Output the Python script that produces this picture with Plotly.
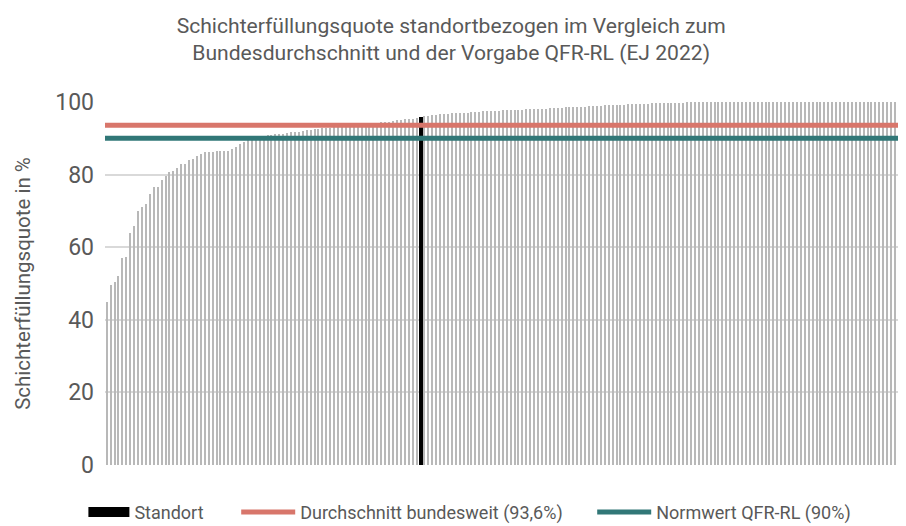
import plotly.graph_objects as go

# --- data -------------------------------------------------------------
quoten = [
    45.0, 49.6, 50.5, 52.1, 56.9, 57.2, 63.8, 65.8, 70.1, 71.0,
    71.9, 74.6, 76.7, 76.7, 78.5, 79.7, 80.6, 80.9, 81.7, 82.8,
    82.8, 84.0, 84.2, 85.0, 85.7, 86.1, 86.3, 86.3, 86.4, 86.4,
    86.4, 86.5, 87.0, 87.6, 88.3, 88.9, 89.4, 89.8, 90.0, 90.3,
    90.6, 90.8, 91.0, 91.1, 91.2, 91.3, 91.5, 91.6, 91.7, 91.8,
    92.0, 92.2, 92.4, 92.5, 92.7, 92.8, 92.9, 92.9, 93.0, 93.0,
    93.1, 93.1, 93.2, 93.3, 93.3, 93.4, 93.5, 94.1, 94.2, 94.3,
    94.4, 94.5, 94.6, 94.7, 95.0, 95.1, 95.2, 95.3, 95.4, 95.5,
    96.0, 96.1, 96.2, 96.3, 96.4, 96.6, 96.7, 96.8, 96.9, 97.0,
    97.0, 97.1, 97.1, 97.2, 97.3, 97.3, 97.4, 97.4, 97.5, 97.5,
    97.6, 97.7, 97.7, 97.8, 97.8, 97.9, 97.9, 98.0, 98.0, 98.1,
    98.1, 98.2, 98.2, 98.3, 98.3, 98.4, 98.4, 98.5, 98.5, 98.6,
    98.6, 98.7, 98.7, 98.8, 98.9, 99.0, 99.0, 99.1, 99.1, 99.2,
    99.2, 99.3, 99.3, 99.4, 99.4, 99.4, 99.5, 99.5, 99.5, 99.6,
    99.6, 99.6, 99.7, 99.7, 99.7, 99.8, 99.8, 99.8, 99.9, 99.9,
    99.9, 100.0, 100.0, 100.0, 100.0, 100.0, 100.0, 100.0, 100.0, 100.0,
    100.0, 100.0, 100.0, 100.0, 100.0, 100.0, 100.0, 100.0, 100.0, 100.0,
    100.0, 100.0, 100.0, 100.0, 100.0, 100.0, 100.0, 100.0, 100.0, 100.0,
    100.0, 100.0, 100.0, 100.0, 100.0, 100.0, 100.0, 100.0, 100.0, 100.0,
    100.0, 100.0, 100.0, 100.0, 100.0, 100.0, 100.0, 100.0, 100.0, 100.0,
    100.0, 100.0, 100.0, 100.0,
]
standort_index = 80
durchschnitt = 93.6
normwert = 90.0
y_ticks = [0, 20, 40, 60, 80, 100]

n = len(quoten)
x_idx = list(range(n))

GREY_TXT = "#595959"
FONT = "Roboto"

fig = go.Figure()

fig.add_trace(go.Bar(
    x=x_idx, y=quoten, width=0.38,
    marker=dict(color="#b8b8b8", line=dict(width=0)),
    showlegend=False, hoverinfo="y",
))

fig.add_trace(go.Bar(
    x=[standort_index], y=[quoten[standort_index]], width=1.0,
    marker=dict(color="#000000", line=dict(width=0)),
    name="Standort", legendgroup="standort", showlegend=False,
))
# legend proxy for the Standort bar (wide black rectangle)
fig.add_trace(go.Scatter(
    x=[None], y=[None], mode="lines",
    line=dict(color="#000000", width=13),
    name="Standort", legendgroup="standort", legend="legend",
))

fig.add_trace(go.Scatter(
    x=[-0.5, n - 0.5], y=[durchschnitt, durchschnitt], mode="lines",
    line=dict(color="#d8766b", width=5),
    name="Durchschnitt bundesweit (93,6%)", legend="legend2",
))

fig.add_trace(go.Scatter(
    x=[-0.5, n - 0.5], y=[normwert, normwert], mode="lines",
    line=dict(color="#317777", width=5),
    name="Normwert QFR-RL (90%)", legend="legend3",
))

leg_common = dict(orientation="h", yanchor="top", y=-0.079, xanchor="left",
                  font=dict(size=18, color=GREY_TXT), bgcolor="rgba(0,0,0,0)")

fig.update_layout(
    width=898, height=518, autosize=False,
    margin=dict(l=97, r=1, t=94, b=61, autoexpand=False),
    paper_bgcolor="white", plot_bgcolor="white",
    barmode="overlay", bargap=0,
    font=dict(family=FONT, color=GREY_TXT, size=18),
    title=dict(
        text="Schichterfüllungsquote standortbezogen im Vergleich zum<br>Bundesdurchschnitt und der Vorgabe QFR-RL (EJ 2022)",
        x=0.4935, xanchor="center", yref="container", y=0.952, yanchor="middle",
        font=dict(family=FONT, size=21.1, color=GREY_TXT),
    ),
    xaxis=dict(
        range=[-0.5, n - 0.5], showticklabels=False, showgrid=False,
        zeroline=False, showline=False, ticks="", automargin=False,
    ),
    yaxis=dict(
        range=[0, 100], tickvals=y_ticks, showgrid=True, automargin=False,
        gridcolor="#d9d9d9", gridwidth=2, zeroline=False, showline=False,
        tickfont=dict(size=23, color=GREY_TXT), ticklabelstandoff=10,
        title=dict(text="Schichterfüllungsquote in %", standoff=19,
                   font=dict(size=20.5, color=GREY_TXT)),
    ),
    legend=dict(x=-0.027, itemwidth=41, **leg_common),
    legend2=dict(x=0.164, itemwidth=54, **leg_common),
    legend3=dict(x=0.609, itemwidth=54, **leg_common),
)

fig.write_html("out.html")
